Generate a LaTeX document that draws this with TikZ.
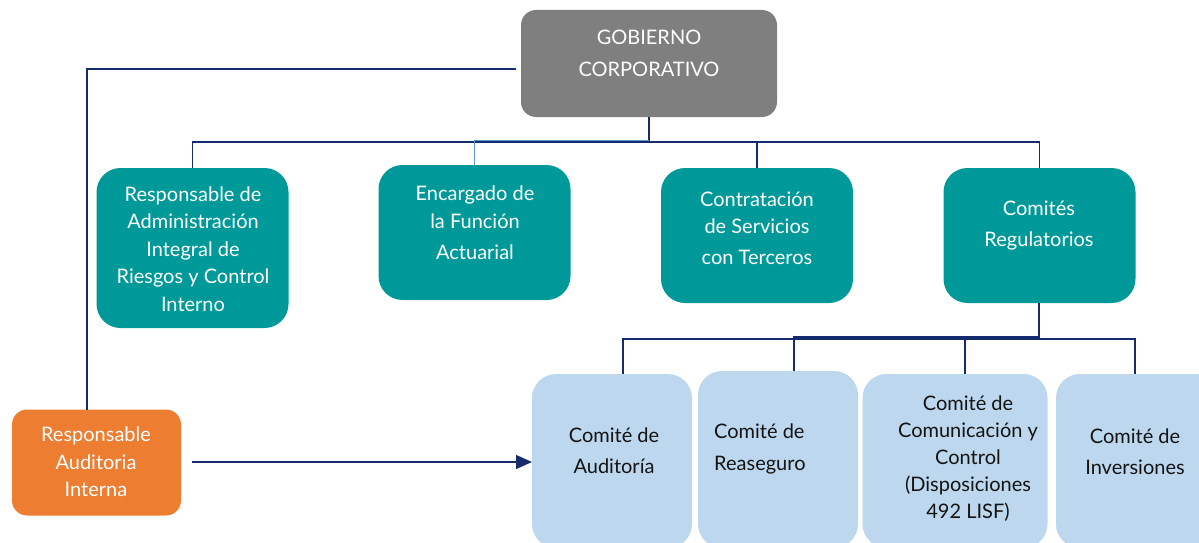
\documentclass[tikz,border=0pt]{standalone}
\usepackage{fontspec}
\setmainfont{Lato}
\usetikzlibrary{arrows.meta}
\definecolor{tealbox}{RGB}{0,153,153}
\definecolor{graybox}{RGB}{127,127,127}
\definecolor{lbluebox}{RGB}{189,215,238}
\definecolor{orangebox}{RGB}{237,125,49}
\definecolor{navyline}{RGB}{22,42,110}
\definecolor{skyline}{RGB}{91,155,213}
\definecolor{darktext}{RGB}{20,20,20}
\begin{document}
\begin{tikzpicture}[x=1pt,y=-1pt,
  card/.style={draw=none, inner sep=0pt, outer sep=0pt},
  gobbox/.style={card, fill=graybox, rounded corners=15pt},
  tealcard/.style={card, fill=tealbox, rounded corners=24pt, minimum width=192pt},
  bluecard/.style={card, fill=lbluebox, rounded corners=24pt},
  orangecard/.style={card, fill=orangebox, rounded corners=15pt, minimum width=169pt, minimum height=106pt},
  wtxt/.style={inner sep=0pt, align=center, text=white, font=\fontsize{20}{27.5}\selectfont},
  dtxt/.style={inner sep=0pt, align=center, text=darktext, font=\fontsize{20}{27}\selectfont},
  conn/.style={draw=navyline, line width=1.3pt},
  lconn/.style={draw=skyline, line width=1.2pt},
  arr/.style={conn, -{Triangle[length=16pt,width=14pt]}}
]
\useasboundingbox (0,0) rectangle (1199,543);
\clip (0,0) rectangle (1199,543);

% boxes
\node[gobbox, minimum width=256pt, minimum height=107pt] (gob) at (649,63.5) {};
\node[tealcard, minimum height=160pt] (b1) at (192.5,248) {};
\node[tealcard, minimum height=135pt] (b2) at (474.5,232.5) {};
\node[tealcard, minimum height=135pt] (b3) at (757,235.5) {};
\node[tealcard, minimum height=135pt] (b4) at (1039.5,235.5) {};
\node[orangecard] (aud) at (96.5,462.5) {};
\node[bluecard, minimum width=160pt, minimum height=174pt] (cA) at (612,461) {};
\node[bluecard, minimum width=160pt, minimum height=177pt] (cB) at (778,459.5) {};
\node[bluecard, minimum width=185pt, minimum height=174pt] (cC) at (955,461) {};
\node[bluecard, minimum width=170pt, minimum height=174pt] (cD) at (1141,461) {};

% texts
\node[wtxt, font=\fontsize{20}{32}\selectfont] (tgob) at (649,53.5) {GOBIERNO\\CORPORATIVO};
\node[wtxt] (t1) at (193,249) {Responsable de\\Administración\\Integral de\\Riesgos y Control\\Interno};
\node[wtxt] (t2) at (475,223) {Encargado de\\la Función\\[4pt]Actuarial};
\node[wtxt] (t3) at (757,228) {Contratación\\de Servicios\\[3pt]con Terceros};
\node[wtxt, font=\fontsize{20}{31}\selectfont] (t4) at (1039,226) {Comités\\Regulatorios};
\node[wtxt] (taud) at (96,462) {Responsable\\Auditoria\\Interna};
\node[dtxt, font=\fontsize{20}{31}\selectfont] (tA) at (614,451) {Comité de\\Auditoría};
\node[dtxt, align=left, font=\fontsize{20}{32}\selectfont, anchor=west] (tB) at (714,449) {Comité de\\Reaseguro};
\node[dtxt] (tC) at (968,459) {Comité de\\Comunicación y\\Control\\(Disposiciones\\492 LISF)};
\node[dtxt, font=\fontsize{20}{31}\selectfont] (tD) at (1135,452) {Comité de\\Inversiones};

% upper tree
\coordinate (j1) at (649,142);
\draw[conn] (gob.south) -- (j1);
\draw[conn] (j1) -| (b1.north);
\draw[conn] (j1) -| (b3.north);
\draw[conn] (j1) -| (b4.north);
\draw[lconn] (649,140.5) -| (b2.north);

% left line to internal audit
\coordinate (gl) at (516,69);
\draw[conn] (gl) -| ([xshift=-9.5pt]aud.north);

% arrow to audit committee
\coordinate (as) at (192,462);
\draw[arr] (as) -- (as -| cA.west);

% lower tree
\coordinate (j2) at (1039,339);
\coordinate (j3) at (1039,337);
\draw[conn] (b4.south -| j2) -- (j2);
\draw[conn] (j2) -| ([xshift=11pt]cA.north);
\draw[conn] (j2) -| ([xshift=10pt]cC.north);
\draw[conn] (j2) -| ([xshift=-6pt]cD.north);
\draw[conn] (j3) -| ([xshift=16pt]cB.north);
\end{tikzpicture}
\end{document}
